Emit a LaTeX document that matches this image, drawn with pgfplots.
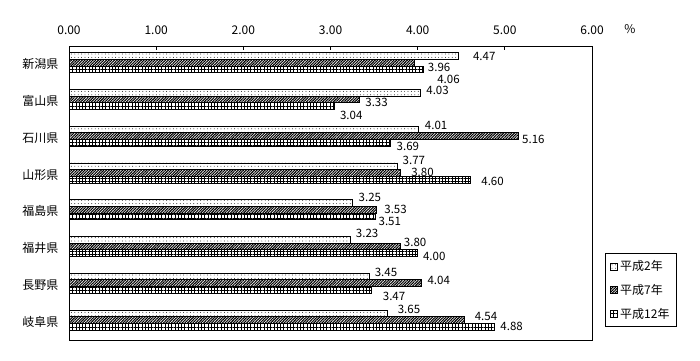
\documentclass[border=0pt]{standalone}
\usepackage{pgfplots}
\pgfplotsset{compat=1.18}
\usepackage{pgfplotstable}
\usetikzlibrary{patterns.meta}
\usepackage{fontspec}
\setmainfont{Noto Sans CJK JP}

\pgfplotstableread{
y x dx dy
-0.228 4.47 14 0
0.772 4.03 5.7 2.2
1.772 4.01 6 4
2.772 3.77 4.7 5.6
3.772 3.25 6 5.5
4.772 3.23 5 6.7
5.772 3.45 4.7 4.2
6.772 3.65 10.3 4.2
}\tA
\pgfplotstableread{
y x dx dy
-0.046 3.96 13.4 -4.8
0.954 3.33 5.7 -3
1.954 5.16 3 -2.8
2.954 3.80 10.7 1.0
3.954 3.53 7.3 0.2
4.954 3.80 3.3 4
5.954 4.04 6 3.2
6.954 4.54 9.7 3
}\tB
\pgfplotstableread{
y x dx dy
0.137 4.06 14 -9.6
1.137 3.04 5.7 -9.4
2.137 3.69 5.7 -3.1
3.137 4.60 11 -1.4
4.137 3.51 3.3 -5
5.137 4.00 5 -3.5
6.137 3.47 11 -6
7.137 4.88 5.7 0.7
}\tC

\begin{document}
\begin{tikzpicture}
\path[use as bounding box] (-69pt,-20pt) rectangle (631pt,340pt);
\begin{axis}[
  at={(0pt,0pt)}, anchor=south west,
  scale only axis, width=523pt, height=294pt,
  xmin=0, xmax=6, ymin=-0.5, ymax=7.5,
  y dir=reverse,
  axis line style={line width=0.8pt},
  /pgf/number format/assume math mode=true,
  xtick={0,1,2,3,4,5,6},
  xtick pos=upper, xticklabel pos=upper,
  xticklabel={\pgfmathprintnumber[fixed,fixed zerofill,precision=2]{\tick}},
  xticklabel style={font=\fontsize{12}{14}\selectfont, yshift=8pt},
  tick align=inside,
  major tick length=4pt,
  tick style={black, line width=0.8pt},
  ytick={0,1,2,3,4,5,6,7},
  yticklabels={新潟県,富山県,石川県,山形県,福島県,福井県,長野県,岐阜県},
  ytick pos=left,
  ytick style={draw=none},
  minor ytick={0.5,1.5,2.5,3.5,4.5,5.5,6.5},
  minor tick length=3pt,
  minor tick style={black, line width=0.8pt},
  yticklabel style={font=\fontsize{12}{14}\selectfont, xshift=-7pt},
  point meta=x,
  nodes near coords={\pgfmathprintnumber[fixed,fixed zerofill,precision=2]{\pgfplotspointmeta}},
  visualization depends on={\thisrow{dx} \as \lblx},
  visualization depends on={\thisrow{dy} \as \lbly},
  every node near coord/.append style={anchor=west, inner sep=0pt, xshift=\lblx pt, yshift=\lbly pt, font=\fontsize{11.5}{13}\selectfont, black},
  legend style={at={(1,0)}, anchor=south west, xshift=13pt, yshift=13pt, draw=black, line width=0.8pt, font=\fontsize{12}{14}\selectfont, row sep=8pt, inner sep=5pt},
  legend cell align=left,
  legend image code/.code={\draw[#1, line width=0.8pt] (0pt,-3.5pt) rectangle (7pt,3.5pt);},
]
\addplot[xbar, bar width=6.7pt, bar shift=0pt, draw=black, line width=0.8pt, pattern={Dots[angle=0, distance=3.4pt, radius=0.45pt]}] table[x=x, y=y] {\tA};
\addlegendentry{平成2年}
\addplot[xbar, bar width=6.7pt, bar shift=0pt, draw=black, line width=0.8pt, pattern={Lines[angle=45, distance=1.9pt, line width=1.1pt]}] table[x=x, y=y] {\tB};
\addlegendentry{平成7年}
\addplot[xbar, bar width=6.7pt, bar shift=0pt, draw=black, line width=0.8pt, pattern={Hatch[angle=0, distance=3.3pt, line width=0.7pt]}] table[x=x, y=y] {\tC};
\addlegendentry{平成12年}
\end{axis}
\node[font=\fontsize{12}{14}\selectfont] at (561pt,311pt) {\%};
\end{tikzpicture}
\end{document}
